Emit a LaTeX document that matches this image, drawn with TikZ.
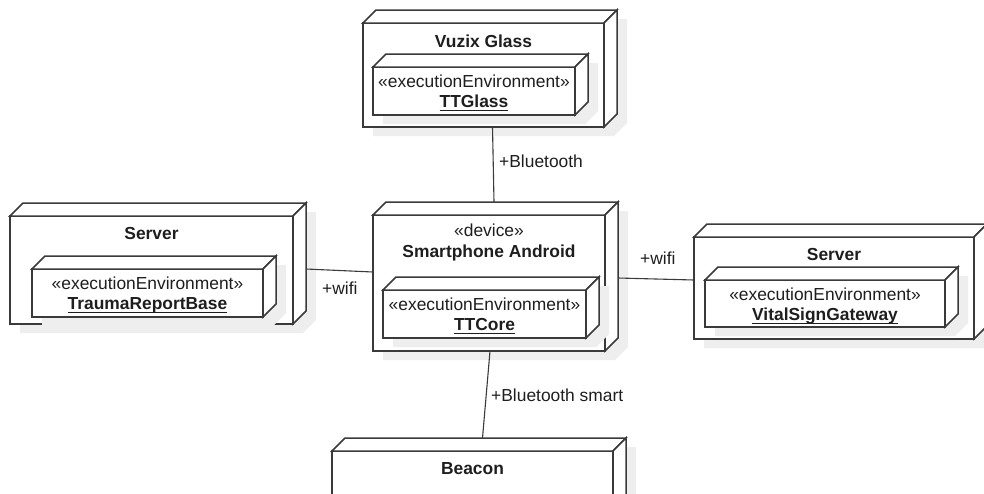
\documentclass[tikz,border=0pt]{standalone}
\usepackage{fontspec}
\setmainfont{Liberation Sans}
\usetikzlibrary{calc,fit}
\definecolor{edge}{HTML}{3A3A3A}
\definecolor{shadowgray}{HTML}{EEEEEE}
\definecolor{ink}{HTML}{1E1E1E}
\tikzset{
  boxfront/.style={draw=edge, line width=1.5pt, fill=white, inner sep=0pt, outer sep=0pt},
  boxface/.style={draw=edge, line width=1.5pt, fill=white, line join=miter},
  boxshadow/.style={fill=shadowgray},
  wire/.style={draw=edge, line width=1.1pt},
  title/.style={font=\fontsize{17.4}{20}\selectfont\bfseries, text=ink, inner sep=0pt, anchor=base},
  caption/.style={font=\fontsize{17.4}{20}\selectfont, text=ink, inner sep=0pt, anchor=base},
  wirelabel/.style={font=\fontsize{17.4}{20}\selectfont, text=ink, inner sep=0pt, anchor=base west},
}
% bold, underlined instance name
\newcommand\envname[1]{\setbox0\hbox{\bfseries #1}\rlap{\color{ink}\rule[-3.8pt]{\wd0}{1.2pt}}\box0}
% 3D UML node: #1 name, (#2,#3) front top-left, (#4,#5) front bottom-right
\newcommand\depbox[5]{%
  \fill[boxshadow] (#2+10,#5+9) -- (#2+10,#3+9) -- (#2+23,#3-4) -- (#4+23,#3-4)
    -- (#4+23,#5-4) -- (#4+10,#5+9) -- cycle;
  \node[boxfront, fit={(#2,#3) (#4,#5)}] (#1) {};
  \draw[boxface] (#1.north west) -- ++(13,-13) -- ($(#1.north east)+(13,-13)$) -- (#1.north east) -- cycle;
  \draw[boxface] (#1.north east) -- ++(13,-13) -- ($(#1.south east)+(13,-13)$) -- (#1.south east) -- cycle;
}
\begin{document}
\begin{tikzpicture}[x=1pt, y=-1pt]
\useasboundingbox (0,0) rectangle (984,493);
\clip (0,0) rectangle (984,493);

% Vuzix Glass
\depbox{vuzix}{363}{23}{604}{127}
\node[title] at ($(vuzix.north)+(0,24)$) {Vuzix Glass};
\depbox{ttglass}{373}{67}{575}{115}
\node[caption] at ($(ttglass.north)+(0,20)$) {«executionEnvironment»};
\node[caption] at ($(ttglass.north)+(0,40)$) {\envname{TTGlass}};

% left server
\depbox{serverL}{10}{216}{293}{324}
\node[title] at ($(serverL.north)+(0,23.5)$) {Server};
\depbox{trauma}{32}{269}{263}{317}
\node[caption] at ($(trauma.north)+(0,20)$) {«executionEnvironment»};
\node[caption] at ($(trauma.north)+(0,40)$) {\envname{TraumaReportBase}};

% smartphone
\depbox{phone}{373}{215}{605}{351}
\node[caption] at ($(phone.north)+(0,21)$) {«device»};
\node[title] at ($(phone.north)+(0,42)$) {Smartphone Android};
\depbox{ttcore}{383}{290}{586}{338}
\node[caption] at ($(ttcore.north)+(0,20)$) {«executionEnvironment»};
\node[caption] at ($(ttcore.north)+(0,40)$) {\envname{TTCore}};

% right server
\depbox{serverR}{694}{237}{974}{339}
\node[title] at ($(serverR.north)+(0,23.5)$) {Server};
\depbox{vital}{705}{280}{945}{327}
\node[caption] at ($(vital.north)+(0,20)$) {«executionEnvironment»};
\node[caption] at ($(vital.north)+(0,40)$) {\envname{VitalSignGateway}};

% beacon
\depbox{beacon}{332}{451}{613}{540}
\node[title] at ($(beacon.north)+(0,23.5)$) {Beacon};

% communication paths
\draw[wire] ($(vuzix.south)+(9,0)$) -- ($(phone.north)+(5,-13)$);
\node[wirelabel] at (499,167) {+Bluetooth};
\draw[wire] ($(serverL.east)+(13,-1)$) -- ($(phone.west)+(0,-11)$);
\node[wirelabel] at (322,294) {+wifi};
\draw[wire] ($(phone.east)+(13,-5)$) -- ($(serverR.west)+(0,-8)$);
\node[wirelabel] at (640,264) {+wifi};
\draw[wire] ($(phone.south)+(1,0)$) -- ($(beacon.north)+(10,-13)$);
\node[wirelabel] at (491,401) {+Bluetooth smart};
\end{tikzpicture}
\end{document}
